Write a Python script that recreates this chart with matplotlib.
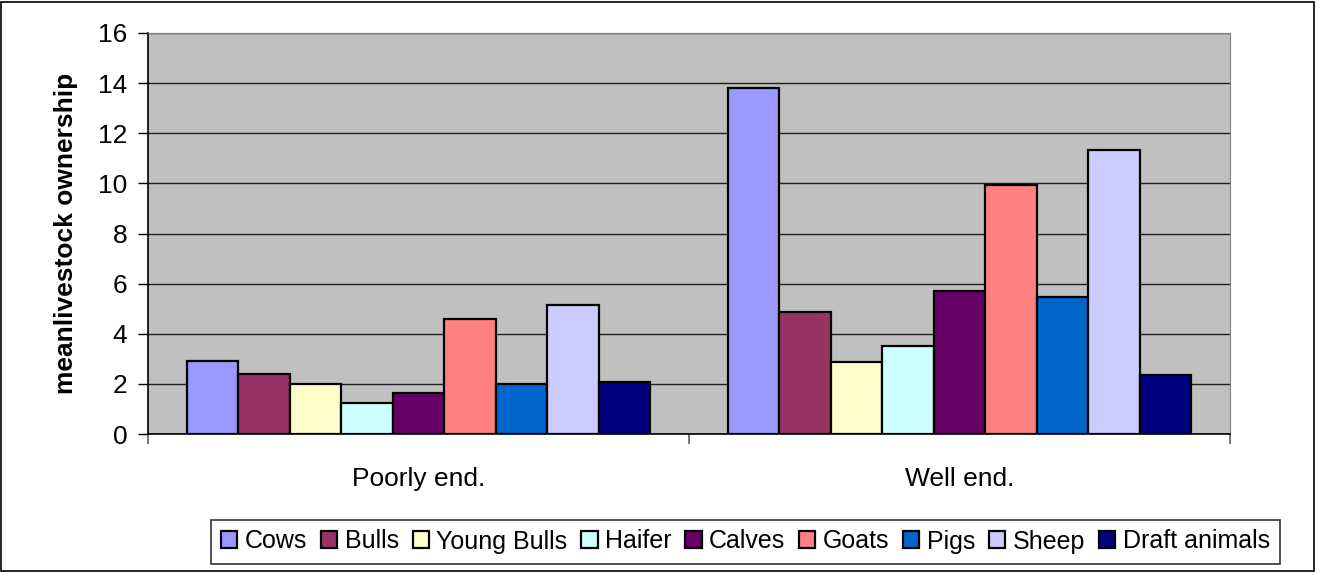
import matplotlib
matplotlib.use("Agg")
import matplotlib.pyplot as plt
import numpy as np
from matplotlib.patches import Rectangle

plt.rcParams['font.family'] = ['Liberation Sans', 'DejaVu Sans']

groups = ["Poorly end.", "Well end."]
animals = ["Cows", "Bulls", "Young Bulls", "Haifer", "Calves",
           "Goats", "Pigs", "Sheep", "Draft animals"]
poorly = [2.9, 2.4, 2.0, 1.24, 1.65, 4.6, 1.98, 5.16, 2.07]
well = [13.82, 4.88, 2.89, 3.51, 5.71, 9.95, 5.48, 11.33, 2.34]
colors = ["#9999FF", "#993366", "#FFFFCC", "#CCFFFF", "#660066",
          "#FF8080", "#0066CC", "#CCCCFF", "#000080"]
yticks = [0, 2, 4, 6, 8, 10, 12, 14, 16]

W, H = 1320, 572
fig = plt.figure(figsize=(W / 100, H / 100), dpi=100)
ax = fig.add_axes([148 / W, 1 - 434 / H, (1230 - 148) / W, (434 - 33) / H])
ax.set_facecolor("#C0C0C0")

# outer chart frame
fig.patches.append(Rectangle((1 / W, 1 / H), (1314 - 1) / W, (570 - 1) / H,
                             transform=fig.transFigure, fill=False,
                             edgecolor="black", linewidth=1.2))

values = np.array([poorly, well])
n = len(animals)
width = 1 / 10.5
x = np.arange(len(groups))
for i, (name, col) in enumerate(zip(animals, colors)):
    offs = (i - (n - 1) / 2) * width
    ax.bar(x + offs, values[:, i], width=width, color=col,
           edgecolor="black", linewidth=1.6, label=name, zorder=3)

ax.set_xlim(-0.5, 1.5)
ax.set_ylim(0, 16)
ax.set_yticks(yticks)
ax.set_yticklabels([str(t) for t in yticks], fontsize=19)
ax.yaxis.grid(True, color="#202020", linewidth=1.0, zorder=1)
ax.set_axisbelow(True)

# category ticks at group boundaries, labels at group centers
ax.set_xticks([-0.5, 0.5, 1.5])
ax.set_xticklabels([])
ax.set_xticks(x, minor=True)
ax.set_xticklabels(groups, minor=True, fontsize=19)
ax.tick_params(axis="x", which="minor", length=0, pad=24)
ax.tick_params(axis="x", which="major", length=7, color="#606060", width=1.2)
ax.tick_params(axis="y", length=7, width=1, pad=8)

for s in ["top", "right"]:
    ax.spines[s].set_color("#808080")
ax.spines["left"].set_linewidth(1.2)
ax.spines["bottom"].set_linewidth(1.2)

ax.set_ylabel("meanlivestock ownership", fontsize=19, fontweight="bold", labelpad=14)

leg = fig.legend(loc="center", bbox_to_anchor=((213 + 1278) / 2 / W, 1 - 541.5 / H),
                 ncol=9, fontsize=18, frameon=True, fancybox=False,
                 edgecolor="black", handlelength=0.65, handleheight=0.65,
                 handletextpad=0.3, columnspacing=0.55, borderpad=0.4,
                 borderaxespad=0)
leg.get_frame().set_linewidth(1.2)

fig.savefig("out.png", dpi=100)
